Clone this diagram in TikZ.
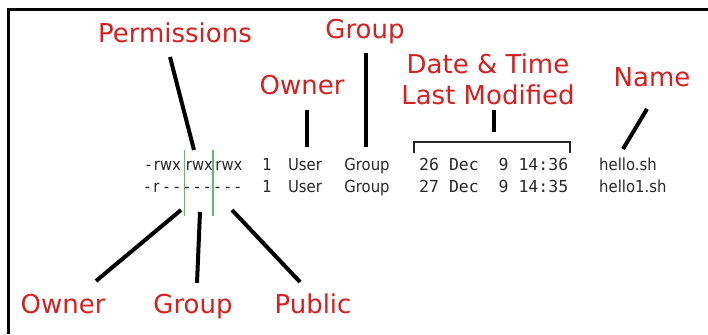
\documentclass[tikz,border=0pt]{standalone}
\usepackage{fontspec}
\setmainfont{DejaVu Sans}
\newfontfamily\termfont[FakeStretch=0.9]{DejaVu Sans}
\newfontfamily\monofont{DejaVu Sans Mono}
\definecolor{labelred}{RGB}{212,32,32}
\definecolor{termgray}{RGB}{40,40,40}
\definecolor{sepgreen}{RGB}{90,190,110}

\begin{document}
\begin{tikzpicture}[x=1pt,y=-1pt,
  tag/.style={text=labelred,font=\fontsize{26}{31}\selectfont,inner sep=0pt,anchor=base,align=center},
  term/.style={text=termgray,font=\termfont\fontsize{16.5}{19}\selectfont,inner sep=0pt,anchor=base},
  mono/.style={text=termgray,font=\monofont\fontsize{16.5}{19}\selectfont,inner sep=0pt,anchor=base west},
  pointer/.style={line width=4pt,black},
  divider/.style={line width=1.2pt,sepgreen},
  bracketline/.style={line width=1.3pt,termgray}]
\useasboundingbox (0,0) rectangle (708,334);
\fill[white] (0,0) rectangle (708,334);
% frame (top and left edges)
\draw[line width=3pt] (8.5,334) -- (8.5,9.5) -- (708,9.5);

% red captions
\node[tag] (permissions) at (175,43) {Permissions};
\node[tag] (grouptop) at (365,39) {Group};
\node[tag] (ownertop) at (302,95) {Owner};
\node[tag,anchor=center] (datetime) at (488,79.6) {Date \& Time\\Last Modified};
\node[tag] (name) at (652,87) {Name};
\node[tag] (ownerbot) at (63,313) {Owner};
\node[tag] (groupbot) at (193,313) {Group};
\node[tag] (public) at (313,313) {Public};

% listing, first row
\node[term] (dash1) at (148.5,170) {-};
\node[term] (rwxu) at (167.5,170) {rwx};
\node[term] (rwxg) at (199.5,170) {rwx};
\node[term] (rwxo) at (229,170) {rwx};
\node[term] (links1) at (267,170) {1};
\node[term] (user1) at (305,170) {User};
\node[term] (group1) at (367,170) {Group};
\node[mono] (date1) at (419,170) {26 Dec\ \ 9 14:36};
\node[term,anchor=base west] (file1) at (599,170) {hello.sh};

% listing, second row
\node[term] (dash2) at (147.5,192) {-};
\node[term] (r2) at (156.5,192) {r};
\foreach \i in {0,...,7}
  \node[term] (q\i) at ({166.5+\i*10.2},192) {-};
\node[term] (links2) at (267,192) {1};
\node[term] (user2) at (305,192) {User};
\node[term] (group2) at (367,192) {Group};
\node[mono] (date2) at (419,192) {27 Dec\ \ 9 14:35};
\node[term,anchor=base west] (file2) at (599,192) {hello1.sh};

% green separators between permission triplets
\coordinate (divAtop) at (184.5,150);
\coordinate (divAbot) at (184.5,216);
\coordinate (divBtop) at (213,150);
\coordinate (divBbot) at (213,216);
\draw[divider] (divAtop) -- (divAbot);
\draw[divider] (divBtop) -- (divBbot);

% bracket over the date columns
\coordinate (brL) at (414,153);
\coordinate (brLt) at (414,142);
\coordinate (brRt) at (570,142);
\coordinate (brR) at (570,153);
\draw[bracketline] (brL) -- (brLt) -- (brRt) -- (brR);

% pointer lines
\coordinate (permA) at (170,57);
\coordinate (permB) at (194,150);
\coordinate (ownA) at (307,110);
\coordinate (ownB) at (307,147);
\coordinate (grpA) at (366,53);
\coordinate (grpB) at (366,147);
\coordinate (dateA) at (494,110);
\coordinate (dateB) at (494,132);
\coordinate (nameA) at (647,109);
\coordinate (nameB) at (623,149);
\coordinate (obA) at (181,210);
\coordinate (obB) at (96,281);
\coordinate (gbA) at (200,212);
\coordinate (gbB) at (197,283);
\coordinate (pbA) at (232,210);
\coordinate (pbB) at (300,282);
\draw[pointer] (permA) -- (permB);
\draw[pointer] (ownA) -- (ownB);
\draw[pointer] (grpA) -- (grpB);
\draw[pointer] (dateA) -- (dateB);
\draw[pointer] (nameA) -- (nameB);
\draw[pointer] (obA) -- (obB);
\draw[pointer] (gbA) -- (gbB);
\draw[pointer] (pbA) -- (pbB);
\end{tikzpicture}
\end{document}
